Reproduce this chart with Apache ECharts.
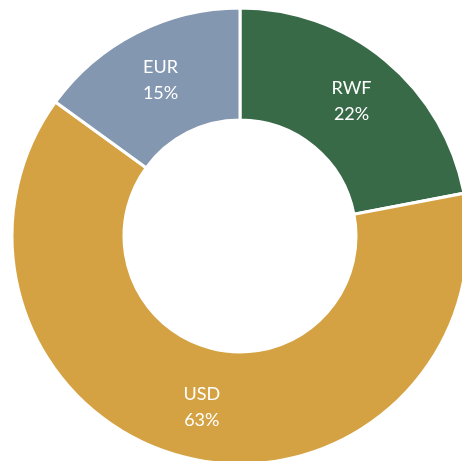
<!DOCTYPE html>
<html>
<head>
<meta charset="utf-8">
<script src="https://cdn.jsdelivr.net/npm/echarts@6/dist/echarts.min.js"></script>
<style>
html,body{margin:0;padding:0;background:#fff;}
#chart{width:462px;height:461px;}
</style>
</head>
<body>
<div id="chart"></div>
<script>
const categories = ['RWF', 'USD', 'EUR'];
const values = [22, 63, 15];
const colors = ['#386A48', '#D5A243', '#8497B0'];

const chart = echarts.init(document.getElementById('chart'), null, {renderer: 'canvas'});
chart.setOption({
  animation: false,
  backgroundColor: '#ffffff',
  series: [{
    type: 'pie',
    center: [240, 236],
    radius: [116, 228],
    startAngle: 90,
    clockwise: true,
    avoidLabelOverlap: false,
    itemStyle: {borderColor: '#ffffff', borderWidth: 3},
    label: {
      show: true,
      position: 'inside',
      formatter: '{b}\n{c}%',
      color: '#ffffff',
      fontFamily: 'Lato',
      fontSize: 18,
      lineHeight: 26
    },
    labelLine: {show: false},
    emphasis: {disabled: true},
    data: categories.map((c, i) => ({name: c, value: values[i], itemStyle: {color: colors[i]}}))
  }]
});
</script>
</body>
</html>
